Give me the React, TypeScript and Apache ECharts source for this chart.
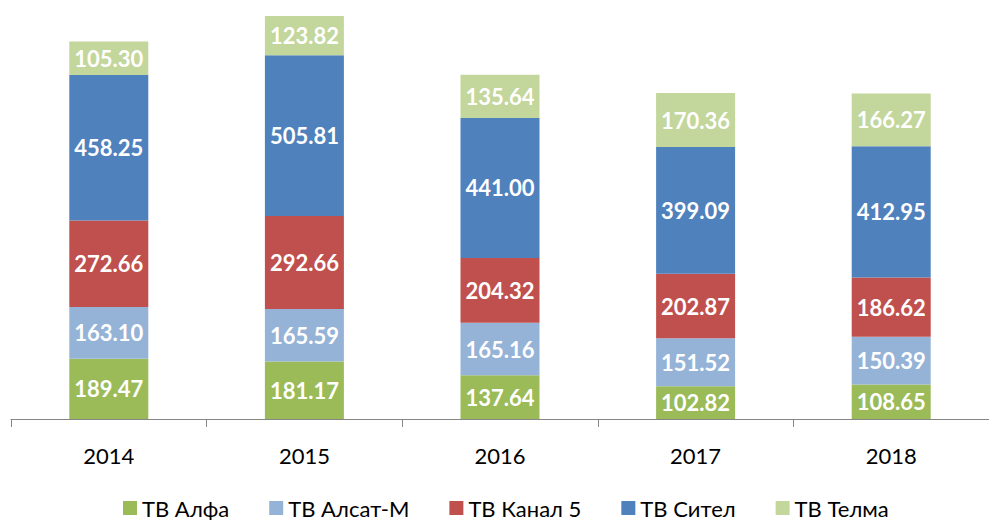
import React, { useEffect, useRef } from "react";
import * as echarts from "echarts";

const categories = ["2014", "2015", "2016", "2017", "2018"];
const seriesNames = ["ТВ Алфа", "ТВ Алсат-М", "ТВ Канал 5", "ТВ Сител", "ТВ Телма"];
const alfa = [189.47, 181.17, 137.64, 102.82, 108.65];
const alsat = [163.1, 165.59, 165.16, 151.52, 150.39];
const kanal5 = [272.66, 292.66, 204.32, 202.87, 186.62];
const sitel = [458.25, 505.81, 441.0, 399.09, 412.95];
const telma = [105.3, 123.82, 135.64, 170.36, 166.27];
const colors = ["#9BBB59", "#95B3D7", "#C0504D", "#4F81BD", "#C3D69B"];

export default function App() {
  const ref = useRef<HTMLDivElement>(null);
  useEffect(() => {
    if (!ref.current) return;
    const chart = echarts.init(ref.current, null, { renderer: "svg" });
    const data = [alfa, alsat, kanal5, sitel, telma];
    chart.setOption({
      animation: false,
      color: colors,
      grid: { left: 11, right: -11, top: 6.2, bottom: 101, containLabel: false },
      legend: {
        top: 497,
        left: 123,
        padding: 0,
        itemWidth: 14,
        itemHeight: 14,
        itemGap: 40,
        icon: "rect",
        textStyle: { fontFamily: "Lato", fontSize: 22, lineHeight: 22, color: "#000" },
        data: seriesNames,
      },
      xAxis: {
        type: "category",
        data: categories,
        axisLine: { lineStyle: { color: "#868686", width: 1 } },
        axisTick: { show: true, length: 8, lineStyle: { color: "#868686" } },
        axisLabel: { margin: 25, fontFamily: "Lato", fontSize: 22, color: "#000" },
      },
      yAxis: {
        type: "value",
        min: 0,
        max: 1300,
        show: false,
        splitLine: { show: false },
      },
      series: seriesNames.map((name, i) => ({
        name,
        type: "bar",
        stack: "total",
        barWidth: 79,
        data: data[i],
        itemStyle: { color: colors[i] },
        label: {
          show: true,
          position: "inside",
          color: "#fff",
          fontFamily: "Lato",
          fontWeight: "bold",
          fontSize: 22,
          formatter: (p: any) => Number(p.value).toFixed(2),
        },
      })),
    });
    return () => chart.dispose();
  }, []);
  return (
    <div
      ref={ref}
      style={{ position: "fixed", left: 0, top: 0, width: 989, height: 520, background: "#fff" }}
    />
  );
}
